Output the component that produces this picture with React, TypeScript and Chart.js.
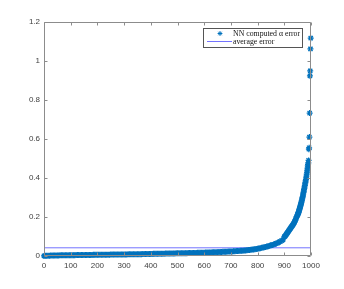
import React, { useEffect, useRef } from "react";
import { Chart, registerables } from "chart.js";

Chart.register(...registerables);

// ---- data ----
// sorted errors, indices 0..895 every 5
const flatStart = 0;
const flatStep = 5;
const flatValues = [
  0.0005, 0.0009, 0.0012, 0.0015, 0.0018, 0.0020, 0.0022, 0.0024, 0.0026, 0.0028,
  0.0030, 0.0032, 0.0033, 0.0034, 0.0035, 0.0036, 0.0037, 0.0038, 0.0039, 0.0040,
  0.0041, 0.0042, 0.0043, 0.0044, 0.0045, 0.0046, 0.0047, 0.0048, 0.0049, 0.0050,
  0.0051, 0.0052, 0.0053, 0.0054, 0.0055, 0.0056, 0.0057, 0.0058, 0.0059, 0.0060,
  0.0061, 0.0062, 0.0063, 0.0064, 0.0065, 0.0066, 0.0067, 0.0068, 0.0069, 0.0070,
  0.0071, 0.0072, 0.0073, 0.0074, 0.0075, 0.0076, 0.0077, 0.0078, 0.0079, 0.0080,
  0.0081, 0.0082, 0.0083, 0.0084, 0.0085, 0.0086, 0.0087, 0.0088, 0.0089, 0.0090,
  0.0092, 0.0093, 0.0095, 0.0096, 0.0098, 0.0099, 0.0101, 0.0102, 0.0104, 0.0105,
  0.0106, 0.0108, 0.0109, 0.0111, 0.0112, 0.0114, 0.0115, 0.0117, 0.0118, 0.0120,
  0.0121, 0.0123, 0.0124, 0.0126, 0.0127, 0.0129, 0.0130, 0.0132, 0.0133, 0.0135,
  0.0136, 0.0138, 0.0139, 0.0141, 0.0142, 0.0144, 0.0145, 0.0147, 0.0148, 0.0150,
  0.0152, 0.0154, 0.0156, 0.0158, 0.0160, 0.0162, 0.0164, 0.0166, 0.0168, 0.0170,
  0.0172, 0.0175, 0.0177, 0.0180, 0.0182, 0.0185, 0.0187, 0.0190, 0.0192, 0.0195,
  0.0198, 0.0201, 0.0205, 0.0208, 0.0212, 0.0215, 0.0219, 0.0222, 0.0226, 0.0229,
  0.0233, 0.0237, 0.0242, 0.0246, 0.0251, 0.0255, 0.0260, 0.0265, 0.0270, 0.0275,
  0.0280, 0.0287, 0.0294, 0.0302, 0.0310, 0.0319, 0.0329, 0.0339, 0.0350, 0.0362,
  0.0375, 0.0389, 0.0403, 0.0418, 0.0434, 0.0450, 0.0467, 0.0485, 0.0504, 0.0524,
  0.0545, 0.0567, 0.0591, 0.0617, 0.0645, 0.0675, 0.0708, 0.0745, 0.0785, 0.0830,
];
// indices 900..948 every 2
const midStart = 900;
const midStep = 2;
const midValues = [
  0.098, 0.101, 0.104, 0.108, 0.112, 0.116, 0.120, 0.124, 0.128, 0.132,
  0.136, 0.140, 0.144, 0.148, 0.152, 0.156, 0.160, 0.164, 0.169, 0.174,
  0.180, 0.186, 0.193, 0.200, 0.206,
];
// indices 950..999 every 1
const tailStart = 950;
const tailStep = 1;
const tailValues = [
  0.212, 0.215, 0.218, 0.222, 0.227, 0.231, 0.236, 0.240, 0.245, 0.250,
  0.255, 0.260, 0.265, 0.270, 0.275, 0.281, 0.287, 0.293, 0.299, 0.305,
  0.312, 0.319, 0.326, 0.333, 0.340, 0.347, 0.355, 0.362, 0.370, 0.377,
  0.385, 0.392, 0.401, 0.410, 0.420, 0.430, 0.440, 0.451, 0.462, 0.470,
  0.478, 0.490, 0.548, 0.555, 0.610, 0.733, 0.924, 0.949, 1.062, 1.117,
];
const averageError = 0.042;

const xTicks = [0, 100, 200, 300, 400, 500, 600, 700, 800, 900, 1000];
const yTicks = [0, 0.2, 0.4, 0.6, 0.8, 1, 1.2];
const legendLabels = ["NN computed \u03B1 error", "average error"];

const POINT_COLOR = "#0072BD";
const AVG_COLOR = "#7373ff";
const AXIS_COLOR = "#8c8c8c";
const TEXT_COLOR = "#404040";

function toPoints(start: number, step: number, vals: number[]) {
  return vals.map((v, i) => ({ x: start + i * step, y: v }));
}

const framePlugin = {
  id: "matlabFrame",
  afterDraw(chart: any) {
    const { ctx, chartArea: a, scales } = chart;
    ctx.save();
    ctx.strokeStyle = AXIS_COLOR;
    ctx.lineWidth = 1;
    const L = Math.round(a.left) + 0.5;
    const R = Math.round(a.right) - 0.5;
    const T = Math.round(a.top) + 0.5;
    const B = Math.round(a.bottom) - 0.5;
    ctx.beginPath();
    ctx.rect(L, T, R - L, B - T);
    const tl = 3;
    xTicks.forEach((v) => {
      const px = Math.round(scales.x.getPixelForValue(v)) + 0.5;
      ctx.moveTo(px, B);
      ctx.lineTo(px, B - tl);
      ctx.moveTo(px, T);
      ctx.lineTo(px, T + tl);
    });
    yTicks.forEach((v) => {
      const py = Math.round(scales.y.getPixelForValue(v)) + 0.5;
      ctx.moveTo(L, py);
      ctx.lineTo(L + tl, py);
      ctx.moveTo(R, py);
      ctx.lineTo(R - tl, py);
    });
    ctx.stroke();

    // legend box
    const bx = 203.5, by = 28.5, bw = 99, bh = 19;
    ctx.fillStyle = "#ffffff";
    ctx.fillRect(bx, by, bw, bh);
    ctx.strokeStyle = "#555555";
    ctx.strokeRect(bx, by, bw, bh);
    // row 1: star marker
    const r1 = 33.5, r2 = 41.5;
    const mx = 220, rr = 2.4;
    ctx.strokeStyle = POINT_COLOR;
    ctx.beginPath();
    for (let k = 0; k < 4; k++) {
      const ang = (k * Math.PI) / 4;
      ctx.moveTo(mx - rr * Math.cos(ang), r1 - rr * Math.sin(ang));
      ctx.lineTo(mx + rr * Math.cos(ang), r1 + rr * Math.sin(ang));
    }
    ctx.stroke();
    // row 2: line
    ctx.strokeStyle = AVG_COLOR;
    ctx.beginPath();
    ctx.moveTo(207, r2);
    ctx.lineTo(232, r2);
    ctx.stroke();
    ctx.fillStyle = "#111111";
    ctx.font = "7.8px 'Liberation Serif', 'DejaVu Serif', serif";
    ctx.textAlign = "left";
    ctx.textBaseline = "middle";
    ctx.fillText(legendLabels[0], 233, r1);
    ctx.fillText(legendLabels[1], 233, r2);
    ctx.restore();
  },
};

export default function App() {
  const ref = useRef<HTMLCanvasElement | null>(null);
  useEffect(() => {
    if (!ref.current) return;
    const points = [
      ...toPoints(flatStart, flatStep, flatValues),
      ...toPoints(midStart, midStep, midValues),
      ...toPoints(tailStart, tailStep, tailValues),
    ];
    const chart = new Chart(ref.current, {
      type: "scatter",
      data: {
        datasets: [
          {
            label: legendLabels[0],
            data: points,
            pointStyle: "star",
            pointRadius: 3,
            pointBorderWidth: 1.3,
            borderColor: POINT_COLOR,
            backgroundColor: POINT_COLOR,
            showLine: false,
            clip: false,
          } as any,
          {
            label: legendLabels[1],
            data: [
              { x: xTicks[0], y: averageError },
              { x: xTicks[xTicks.length - 1], y: averageError },
            ],
            showLine: true,
            pointRadius: 0,
            borderColor: AVG_COLOR,
            borderWidth: 1,
            backgroundColor: AVG_COLOR,
          },
        ],
      },
      options: {
        responsive: false,
        animation: false,
        devicePixelRatio: 1,
        layout: { padding: { top: 22, right: 33, left: 0, bottom: 0 } },
        plugins: { legend: { display: false }, tooltip: { enabled: false } },
        scales: {
          x: {
            type: "linear",
            min: 0,
            max: 1000,
            afterFit: (s: any) => {
              s.height = 33;
            },
            afterBuildTicks: (s: any) => {
              s.ticks = xTicks.map((v) => ({ value: v }));
            },
            grid: { display: false, drawTicks: false },
            border: { display: false },
            ticks: {
              padding: 5,
              maxRotation: 0,
              autoSkip: false,
              color: TEXT_COLOR,
              callback: (v: any) => String(v),
              font: { family: "'Liberation Sans', Arial, sans-serif", size: 8 },
            },
          },
          y: {
            type: "linear",
            min: 0,
            max: 1.2,
            afterFit: (s: any) => {
              s.width = 44;
            },
            afterBuildTicks: (s: any) => {
              s.ticks = yTicks.map((v) => ({ value: v }));
            },
            grid: { display: false, drawTicks: false },
            border: { display: false },
            ticks: {
              padding: 4,
              autoSkip: false,
              color: TEXT_COLOR,
              callback: (v: any) => String(v),
              font: { family: "'Liberation Sans', Arial, sans-serif", size: 8 },
            },
          },
        },
      },
      plugins: [framePlugin],
    });
    return () => chart.destroy();
  }, []);
  return (
    <div
      style={{
        position: "fixed",
        left: 0,
        top: 0,
        width: 344,
        height: 289,
        background: "#ffffff",
      }}
    >
      <canvas ref={ref} width={344} height={289} />
    </div>
  );
}
